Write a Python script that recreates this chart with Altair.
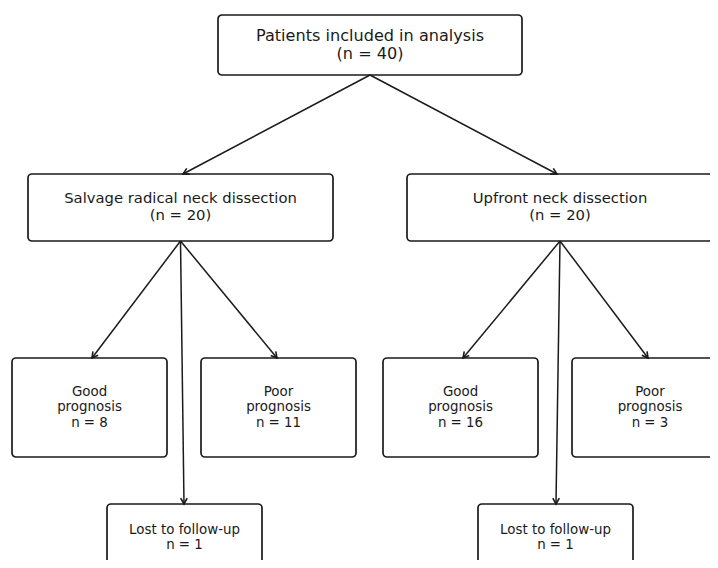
import math
import altair as alt
import pandas as pd

# ---- content (values) ----
total_label = "Patients included in analysis"
total_n = 40
groups = ["Salvage radical neck dissection", "Upfront neck dissection"]
group_n = [20, 20]
outcomes = ["Good prognosis", "Poor prognosis", "Lost to follow-up"]
outcome_n = {
    "Salvage radical neck dissection": [8, 11, 1],
    "Upfront neck dissection": [16, 3, 1],
}

# ---- layout (page pixel frame: center x, center y, width, height) ----
top_box = (370, 45, 304, 60)
group_boxes = [(180.5, 207.5, 305, 67), (560, 207.5, 306, 67)]
outcome_boxes = {
    "Salvage radical neck dissection": [(89.5, 407.5, 155, 99), (278.5, 407.5, 155, 99), (184.5, 537.5, 155, 67)],
    "Upfront neck dissection": [(460.5, 407.5, 155, 99), (650, 407.5, 156, 99), (555.5, 537.5, 155, 67)],
}
arrow_tips = {
    "Salvage radical neck dissection": [(92, 358), (277, 358), (184, 504)],
    "Upfront neck dissection": [(463, 358), (648, 358), (556, 504)],
}
group_tips = [(183, 174), (557, 174)]

# text styles per node level: font size, line height
styles = {"top": (16.1, 18.0), "mid": (14.8, 17.0), "small": (13.4, 15.2)}

nodes = []
edges = []


def add_node(box, lines, level):
    cx, cy, w, h = box
    fs, lh = styles[level]
    ty = cy - (len(lines) - 1) * lh / 2
    nodes.append(dict(x=cx - w / 2, x2=cx + w / 2, y=cy - h / 2, y2=cy + h / 2,
                      cx=cx, ty=ty, label=lines, level=level))


add_node(top_box, [total_label, f"(n = {total_n})"], "top")
for gi, g in enumerate(groups):
    add_node(group_boxes[gi], [g, f"(n = {group_n[gi]})"], "mid")
    edges.append(dict(x=top_box[0], y=top_box[1] + top_box[3] / 2,
                      x2=group_tips[gi][0], y2=group_tips[gi][1]))
    gb = group_boxes[gi]
    for oi, o in enumerate(outcomes):
        n = outcome_n[g][oi]
        if o == "Lost to follow-up":
            lines = [o, f"n = {n}"]
        else:
            w1, w2 = o.split(" ")
            lines = [w1, w2, f"n = {n}"]
        add_node(outcome_boxes[g][oi], lines, "small")
        tx, ty = arrow_tips[g][oi]
        edges.append(dict(x=gb[0], y=gb[1] + gb[3] / 2, x2=tx, y2=ty))

for e in edges:
    dx = e["x2"] - e["x"]
    dy = e["y2"] - e["y"]
    e["angle"] = math.degrees(math.atan2(-dx, dy)) % 360

nodes_df = pd.DataFrame(nodes)
edges_df = pd.DataFrame(edges)

W, H = 702, 552
xs = alt.Scale(domain=[8, 8 + W], nice=False, zero=False)
ys = alt.Scale(domain=[8, 8 + H], nice=False, zero=False, reverse=True)

boxes = alt.Chart(nodes_df).mark_rect(
    fill="white", stroke="#1a1a1a", strokeWidth=1.7, cornerRadius=4, clip=True
).encode(
    x=alt.X("x:Q", scale=xs, axis=None),
    x2="x2:Q",
    y=alt.Y("y:Q", scale=ys, axis=None),
    y2="y2:Q",
)

text_layers = []
for level, (fs, lh) in styles.items():
    text_layers.append(
        alt.Chart(nodes_df[nodes_df["level"] == level]).mark_text(
            font="DejaVu Sans", fontSize=fs, lineHeight=lh, color="#1a1a1a",
            baseline="middle", align="center", clip=True
        ).encode(
            x=alt.X("cx:Q", scale=xs, axis=None),
            y=alt.Y("ty:Q", scale=ys, axis=None),
            text="label",
        )
    )

lines = alt.Chart(edges_df).mark_rule(color="#1a1a1a", strokeWidth=1.5).encode(
    x=alt.X("x:Q", scale=xs, axis=None),
    y=alt.Y("y:Q", scale=ys, axis=None),
    x2="x2:Q",
    y2="y2:Q",
)

heads = alt.Chart(edges_df).mark_point(
    shape="M-0.55,-1L0,0L0.55,-1", filled=False, stroke="#1a1a1a",
    strokeWidth=1.6, size=140, opacity=1
).encode(
    x=alt.X("x2:Q", scale=xs, axis=None),
    y=alt.Y("y2:Q", scale=ys, axis=None),
    angle=alt.Angle("angle:Q", scale=None),
)

chart = alt.layer(boxes, lines, heads, *text_layers).properties(
    width=W, height=H,
    autosize=alt.AutoSizeParams(type="none"),
    padding=0,
    background="white",
).configure_view(stroke="transparent", strokeWidth=0)

chart.save("out.html", embed_options={"renderer": "svg", "actions": False})
